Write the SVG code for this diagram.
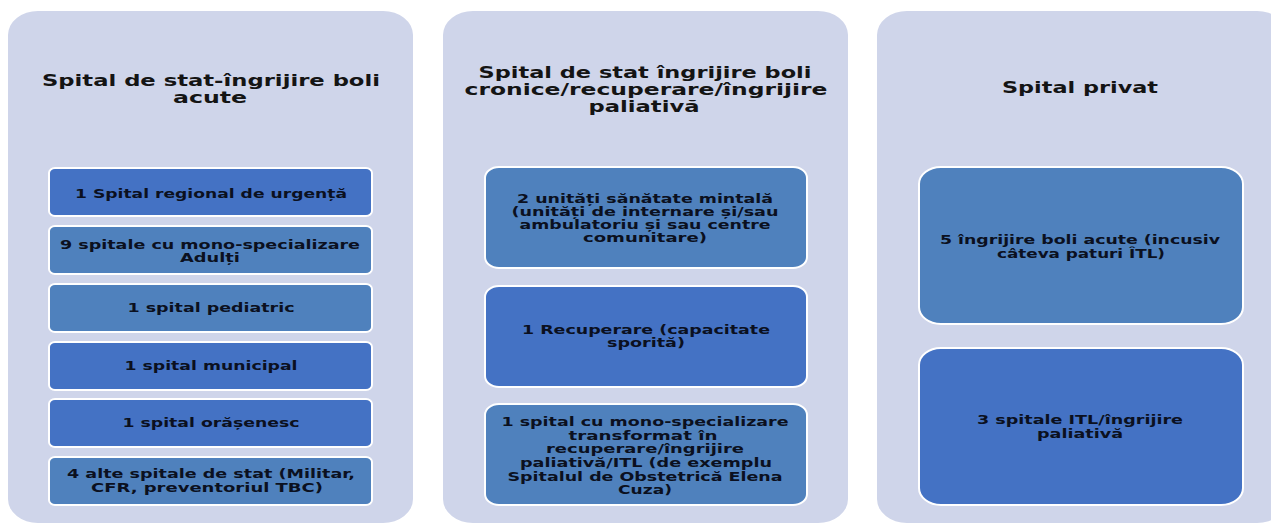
<svg xmlns="http://www.w3.org/2000/svg" width="1271" height="525" viewBox="0 0 1271 525">
<style>
.panel{fill:#CFD5EA}
.dk{fill:#4472C4;stroke:#FFFFFF;stroke-width:2}
.lt{fill:#4F81BD;stroke:#FFFFFF;stroke-width:2}
.title{font-family:"DejaVu Sans","Liberation Sans",sans-serif;font-size:15px;font-weight:bold;fill:#141414;text-anchor:middle}
.bt{font-family:"DejaVu Sans","Liberation Sans",sans-serif;font-size:12.5px;font-weight:bold;fill:#0B1020;text-anchor:middle}
</style>
<rect width="1271" height="525" fill="#FFFFFF"/>
<g id="panel-acute">
<rect class="panel" x="8" y="11" width="405" height="512" rx="30" ry="24"/>
<text class="title" x="211" y="86" textLength="338" lengthAdjust="spacingAndGlyphs">Spital de stat-îngrijire boli</text>
<text class="title" x="210" y="103" textLength="74" lengthAdjust="spacingAndGlyphs">acute</text>
</g>
<g id="box-a1"><rect class="dk" x="49" y="168" width="323" height="48" rx="6" ry="5"/>
<text class="bt" x="211" y="198" textLength="272" lengthAdjust="spacingAndGlyphs">1 Spital regional de urgență</text></g>
<g id="box-a2"><rect class="lt" x="49" y="226" width="323" height="48" rx="6" ry="5"/>
<text class="bt" x="210" y="249" textLength="300" lengthAdjust="spacingAndGlyphs">9 spitale cu mono-specializare</text>
<text class="bt" x="210" y="262" textLength="60" lengthAdjust="spacingAndGlyphs">Adulți</text></g>
<g id="box-a3"><rect class="lt" x="49" y="284" width="323" height="48" rx="6" ry="5"/>
<text class="bt" x="211" y="312" textLength="167" lengthAdjust="spacingAndGlyphs">1 spital pediatric</text></g>
<g id="box-a4"><rect class="dk" x="49" y="342" width="323" height="48" rx="6" ry="5"/>
<text class="bt" x="211" y="370" textLength="173" lengthAdjust="spacingAndGlyphs">1 spital municipal</text></g>
<g id="box-a5"><rect class="dk" x="49" y="399" width="323" height="48" rx="6" ry="5"/>
<text class="bt" x="211" y="427" textLength="177" lengthAdjust="spacingAndGlyphs">1 spital orășenesc</text></g>
<g id="box-a6"><rect class="lt" x="49" y="457" width="323" height="48" rx="6" ry="5"/>
<text class="bt" x="211" y="478" textLength="288" lengthAdjust="spacingAndGlyphs">4 alte spitale de stat (Militar,</text>
<text class="bt" x="207" y="492" textLength="232" lengthAdjust="spacingAndGlyphs">CFR, preventoriul TBC)</text></g>

<g id="panel-cronice">
<rect class="panel" x="443" y="11" width="405" height="512" rx="30" ry="24"/>
<text class="title" x="645" y="78" textLength="333" lengthAdjust="spacingAndGlyphs">Spital de stat îngrijire boli</text>
<text class="title" x="646" y="95" textLength="363" lengthAdjust="spacingAndGlyphs">cronice/recuperare/îngrijire</text>
<text class="title" x="644" y="112" textLength="111" lengthAdjust="spacingAndGlyphs">paliativă</text>
</g>
<g id="box-c1"><rect class="lt" x="485" y="167" width="322" height="101" rx="14" ry="11"/>
<text class="bt" x="645" y="203" textLength="256" lengthAdjust="spacingAndGlyphs">2 unități sănătate mintală</text>
<text class="bt" x="645" y="216" textLength="267" lengthAdjust="spacingAndGlyphs">(unități de internare și/sau</text>
<text class="bt" x="645" y="229" textLength="251" lengthAdjust="spacingAndGlyphs">ambulatoriu și sau centre</text>
<text class="bt" x="645" y="242" textLength="124" lengthAdjust="spacingAndGlyphs">comunitare)</text></g>
<g id="box-c2"><rect class="dk" x="485" y="286" width="322" height="101" rx="14" ry="11"/>
<text class="bt" x="646" y="334" textLength="248" lengthAdjust="spacingAndGlyphs">1 Recuperare (capacitate</text>
<text class="bt" x="646" y="347" textLength="78" lengthAdjust="spacingAndGlyphs">sporită)</text></g>
<g id="box-c3"><rect class="lt" x="485" y="404" width="322" height="101" rx="14" ry="11"/>
<text class="bt" x="645" y="426" textLength="287" lengthAdjust="spacingAndGlyphs">1 spital cu mono-specializare</text>
<text class="bt" x="643" y="440" textLength="149" lengthAdjust="spacingAndGlyphs">transformat în</text>
<text class="bt" x="645" y="453" textLength="198" lengthAdjust="spacingAndGlyphs">recuperare/îngrijire</text>
<text class="bt" x="646" y="467" textLength="252" lengthAdjust="spacingAndGlyphs">paliativă/ITL (de exemplu</text>
<text class="bt" x="645" y="481" textLength="275" lengthAdjust="spacingAndGlyphs">Spitalul de Obstetrică Elena</text>
<text class="bt" x="645" y="494" textLength="54" lengthAdjust="spacingAndGlyphs">Cuza)</text></g>

<g id="panel-privat">
<rect class="panel" x="877" y="11" width="410" height="512" rx="30" ry="24"/>
<text class="title" x="1080" y="93" textLength="156" lengthAdjust="spacingAndGlyphs">Spital privat</text>
</g>
<g id="box-p1"><rect class="lt" x="919" y="167" width="324" height="157" rx="22" ry="17"/>
<text class="bt" x="1080" y="244" textLength="280" lengthAdjust="spacingAndGlyphs">5 îngrijire boli acute (incusiv</text>
<text class="bt" x="1081" y="258" textLength="168" lengthAdjust="spacingAndGlyphs">câteva paturi ÎTL)</text></g>
<g id="box-p2"><rect class="dk" x="919" y="348" width="324" height="157" rx="22" ry="17"/>
<text class="bt" x="1080" y="424" textLength="206" lengthAdjust="spacingAndGlyphs">3 spitale ITL/îngrijire</text>
<text class="bt" x="1080" y="438" textLength="86" lengthAdjust="spacingAndGlyphs">paliativă</text></g>
<g id="connectors"></g>
</svg>
